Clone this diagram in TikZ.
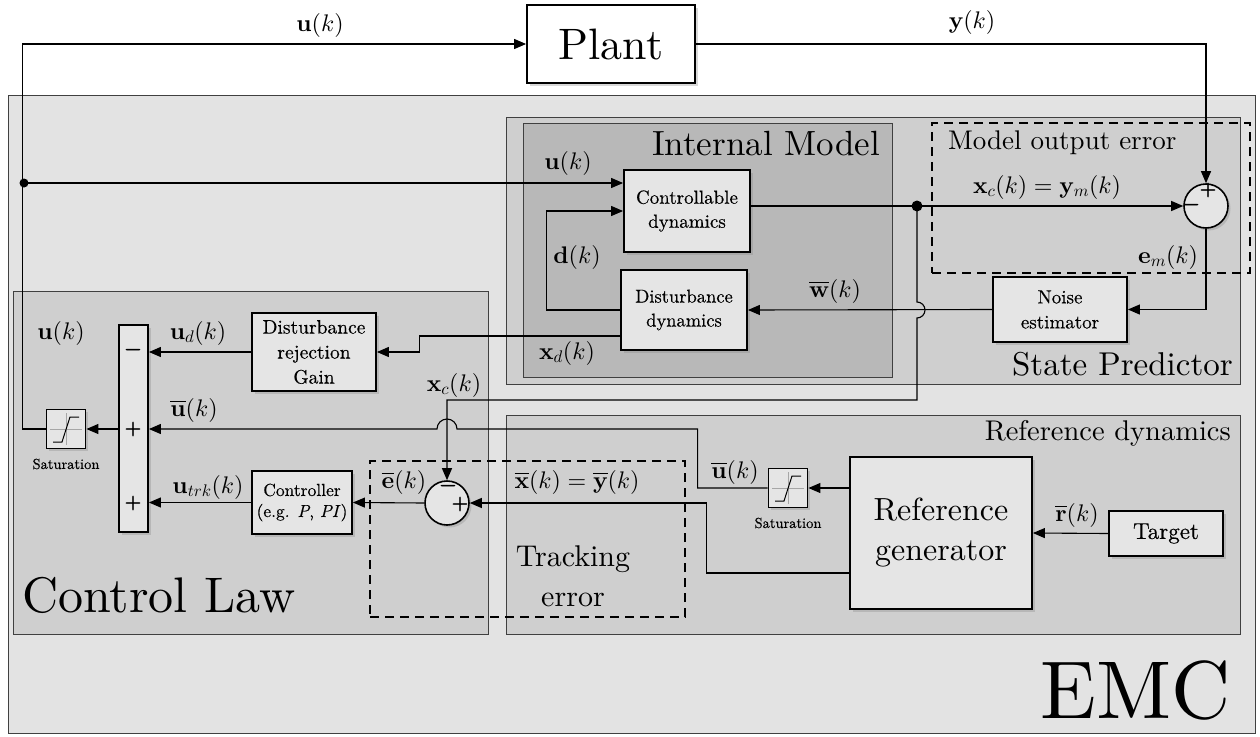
\documentclass[tikz,border=0pt]{standalone}
\usepackage{amsmath}
\usepackage{fontspec}
\setmainfont{lmroman10}[Extension=.otf, UprightFont=*-regular, BoldFont=*-bold, ItalicFont=*-italic, BoldItalicFont=*-bolditalic]
\newfontfamily\boxf{lmroman10}[Extension=.otf, UprightFont=*-regular, ItalicFont=*-italic, FakeBold=0.35]
\newfontfamily\sgnf{lmroman10}[Extension=.otf, UprightFont=*-regular, FakeBold=2.5]
\DeclareFontShape{OT1}{cmr}{m}{n}{<->cmr10}{}
\DeclareFontShape{OT1}{cmr}{bx}{n}{<->cmbx10}{}
\DeclareFontShape{OML}{cmm}{m}{it}{<->cmmi10}{}
\DeclareFontShape{OMS}{cmsy}{m}{n}{<->cmsy10}{}
\usetikzlibrary{arrows.meta,shadows,fit,calc}
\definecolor{emcfill}{gray}{0.89}
\definecolor{grpfill}{gray}{0.81}
\definecolor{imfill}{gray}{0.72}
\definecolor{blkfill}{gray}{0.90}
\newcommand{\fsz}[2]{\fontsize{#1}{#2}\selectfont}
\newcommand{\saticon}[1]{%
  \draw[black!35, line width=0.6pt] ([xshift=-16pt]#1.center) -- ([xshift=16pt]#1.center)
        ([yshift=-16pt]#1.center) -- ([yshift=16pt]#1.center);
  \draw[line width=1pt] ([shift={(-13pt,-13pt)}]#1.center) -- ++(9pt,0) -- ++(8pt,25pt) -- ++(9pt,0);}
\tikzset{
  grp/.style={draw=black!75, line width=1pt, fill=grpfill, inner sep=0pt},
  blk/.style={draw=black, line width=1.8pt, fill=blkfill, inner sep=0pt, align=center,
    drop shadow={shadow xshift=2.5pt, shadow yshift=-2.5pt, opacity=0.3}},
  wh/.style 2 args={minimum width=#1pt, minimum height=#2pt},
  satbox/.style={blk, minimum width=39pt, minimum height=39pt},
  sumc/.style={circle, draw, line width=1.6pt, fill=blkfill, minimum size=44pt, inner sep=0pt,
    drop shadow={shadow xshift=2.5pt, shadow yshift=-2.5pt, opacity=0.3}},
  sig/.style={line width=1.1pt, -{Triangle[length=12pt,width=10pt]}},
  wire/.style={line width=1.1pt},
  lab/.style={inner sep=0pt, font=\fsz{24}{28}},
  sgn/.style={inner sep=0pt, font=\sgnf\fsz{21}{24}},
  satlab/.style={inner sep=0pt, font=\boxf\fsz{14.5}{17}},
  dbox/.style={draw, line width=2pt, dash pattern=on 9pt off 6pt, inner sep=0pt},
}
\begin{document}
\begin{tikzpicture}[x=1pt, y=-1pt]
\fill[white] (0,0) rectangle (1260,736);
\useasboundingbox (0,0) rectangle (1260,736);
% group boxes
\node[grp, fill=emcfill, fit={(8,95)(1255,733)}] (emc) {};
\node[grp, fit={(13,291)(488,634)}] (cl) {};
\node[grp, fit={(506,117)(1240,384)}] (sp) {};
\node[grp, fill=imfill, fit={(523,123)(892,377)}] (im) {};
\node[grp, fit={(506,415)(1240,634)}] (rd) {};
\node[dbox, fit={(932,123)(1250,273)}] (moe) {};
\node[dbox, fit={(370,461)(685,617)}] (te) {};
% titles
\node[anchor=base east, inner sep=0pt, font=\fsz{35}{40}] (imt) at (880,155) {Internal Model};
\node[anchor=base west, inner sep=0pt, font=\fsz{27}{32}] (moet) at (948,149) {Model output error};
\node[anchor=base east, inner sep=0pt, font=\fsz{33}{38}] (spt) at (1233,375) {State Predictor};
\node[anchor=base east, inner sep=0pt, font=\fsz{28.5}{34}] (rdt) at (1231,440) {Reference dynamics};
\node[anchor=base west, inner sep=0pt, font=\fsz{50}{56}] (clt) at (22,612) {Control Law};
\node[anchor=base east, inner sep=0pt, font=\fsz{82}{90}] (emct) at (1231,718) {EMC};
\node[align=center, inner sep=0pt, font=\fsz{30}{40}] (tet) at (573,576) {Tracking\\error};
% blocks
\node[blk, fill=white, wh={168}{78}, font=\fsz{44}{50}] (plant) at (611,44) {Plant};
\node[blk, wh={126}{82}, font=\boxf\fsz{19}{24}] (ctrl) at (687,211) {Controllable\\dynamics};
\node[blk, wh={126}{80}, font=\boxf\fsz{18.5}{24}] (dist) at (684,310) {Disturbance\\dynamics};
\node[blk, wh={134}{65}, font=\boxf\fsz{19}{25}] (noise) at (1060,309.5) {Noise\\estimator};
\node[blk, wh={124}{78}, font=\boxf\fsz{19.5}{25}] (rej) at (314,352) {Disturbance\\rejection\\Gain};
\node[blk, wh={100}{63}, font=\boxf\fsz{17.5}{21}] (ctl) at (302,502.5) {Controller\\(e.g. \textit{P}, \textit{PI})};
\node[blk, fit={(119,325)(148,532)}] (bar) {};
\node[satbox] (satL) at (66,429) {};
\node[satbox] (satR) at (788,488) {};
\node[blk, wh={182}{152}, font=\fsz{32}{40}] (gen) at (941,533) {Reference\\generator};
\node[blk, wh={114}{45}, font=\boxf\fsz{23}{28}] (target) at (1166,533.5) {Target};
\node[sumc] (sumM) at (1206,206) {};
\node[sumc] (sumT) at (447,503) {};
\saticon{satL}
\saticon{satR}
% coordinates
\coordinate (dotL) at (24,183);
\coordinate (dotR) at (917,206);
% wires
\draw[sig] (satL.west) -- ++(-23,0) |- (plant.west);
\draw[sig] (dotL) -- (dotL -| ctrl.west);
\draw[sig] (dist.west) -- ++(-74,0) |- (ctrl.west);
\draw[wire] (dotR -| ctrl.east) -- (dotR);
\draw[sig] (dotR) -- (sumM.west);
\draw[sig] (plant.east) -| (sumM.north);
\draw[sig] (sumM.south) |- (noise.east);
\draw[sig] (noise.west) -- (dist.east);
\draw[sig] (dotR) -- (917,302) arc[start angle=-90, end angle=90, radius=8] -- (917,400) -| (sumT.north);
\draw[sig] ([yshift=-26pt]dist.west) -- ++(-201,0) |- (rej.east);
\draw[sig] (rej.west) -- (rej.west -| bar.east);
\draw[sig] (satR.west) -- ++(-70,0) |- (457,429) arc[start angle=0, end angle=-180, radius=10] -- (bar.east |- satL.east);
\draw[sig] (bar.west |- satL.east) -- (satL.east);
\draw[sig] (sumT.west) -- (ctl.east);
\draw[sig] (ctl.west) -- (ctl.west -| bar.east);
\draw[sig] ([yshift=-40pt]gen.west) -- ++(-143,0) |- (sumT.east);
\draw[sig] ([yshift=45pt]gen.west) -- (satR.east);
\draw[sig] (target.west) -- (gen.east);
\fill (dotL) circle[radius=4.5pt];
\fill (dotR) circle[radius=5.5pt];
% signs
\node[sgn] (b1) at (133,352) {−};
\node[sgn] (b2) at (133,429) {+};
\node[sgn] (b3) at (133,503) {+};
\node[sgn] (m1) at (1208,190) {+};
\node[sgn] (m2) at (1191,207) {−};
\node[sgn] (t1) at (448,488) {−};
\node[sgn] (t2) at (460,504) {+};
\node[satlab] (sl1) at (66,464) {Saturation};
\node[satlab] (sl2) at (788,523) {Saturation};
% signal labels
\node[lab] (topU) at (320,25) {$\mathbf{u}(k)$};
\node[lab] (topY) at (972,22) {$\mathbf{y}(k)$};
\node[lab] (imU) at (568,163) {$\mathbf{u}(k)$};
\node[lab] (dK) at (577,257) {$\mathbf{d}(k)$};
\node[lab] (wb) at (835,291) {$\overline{\mathbf{w}}(k)$};
\node[lab] (xd) at (567,353) {$\mathbf{x}_d(k)$};
\node[lab] (xcym) at (1047,187) {$\mathbf{x}_c(k)=\mathbf{y}_m(k)$};
\node[lab] (em) at (1168,257) {$\mathbf{e}_m(k)$};
\node[lab] (clU) at (61,333) {$\mathbf{u}(k)$};
\node[lab] (ud) at (198,333) {$\mathbf{u}_d(k)$};
\node[lab] (ub1) at (194,410) {$\overline{\mathbf{u}}(k)$};
\node[lab] (utrk) at (208,487) {$\mathbf{u}_{trk}(k)$};
\node[lab] (xc) at (454,385) {$\mathbf{x}_c(k)$};
\node[lab] (eb) at (404,482) {$\overline{\mathbf{e}}(k)$};
\node[lab] (xb) at (577,482) {$\overline{\mathbf{x}}(k)=\overline{\mathbf{y}}(k)$};
\node[lab] (ub2) at (735,472) {$\overline{\mathbf{u}}(k)$};
\node[lab] (rb) at (1077,515) {$\overline{\mathbf{r}}(k)$};
\end{tikzpicture}
\end{document}
